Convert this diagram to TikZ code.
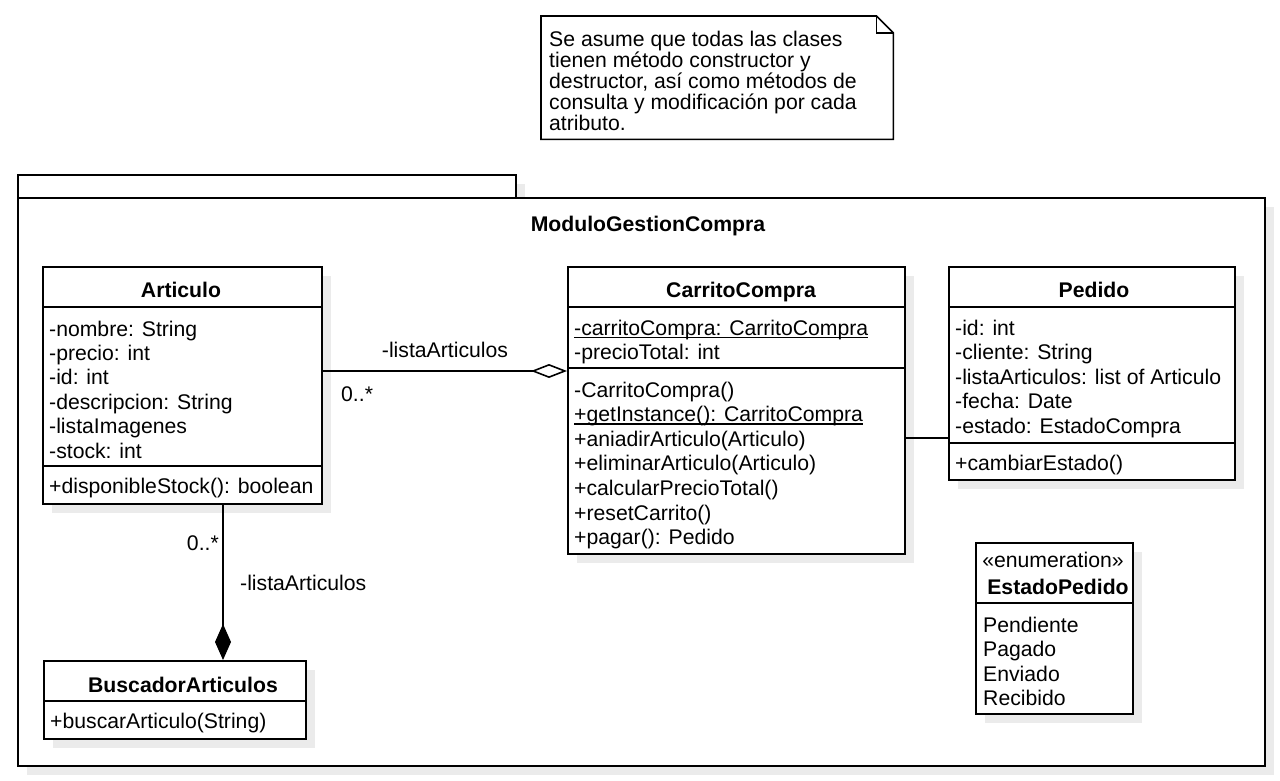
\documentclass[tikz,border=0pt]{standalone}
\usepackage{fontspec}
\setmainfont{Liberation Sans}
\usetikzlibrary{arrows.meta,shadows}

% underline drawn through the descenders, as UML does for static members
\newcommand\staticul[1]{\setbox0\hbox{#1}\rlap{\rule[-3pt]{\wd0}{1.3pt}}\box0}

\begin{document}
\begin{tikzpicture}[x=1pt,y=-1pt,
  every node/.style={font=\fontsize{21.2}{24.6}\selectfont, inner sep=0pt},
  ln/.style={line width=1.6pt},
  umlbox/.style={draw=black, line width=1.6pt, fill=white, anchor=north west,
    drop shadow={shadow xshift=9pt, shadow yshift=-9pt, fill=black!8, opacity=1}},
  rowtxt/.style={anchor=base west},
  ctrtxt/.style={anchor=base},
  ttl/.style={anchor=base, font=\fontsize{21.2}{24.6}\selectfont\bfseries},
]
\useasboundingbox (0,0) rectangle (1280,781);
\fill[white] (0,0) rectangle (1280,781);

% ---------- note ----------
\node[anchor=north west, minimum width=352pt, minimum height=123pt] (note) at (541,16) {};
\draw[ln, fill=white, line join=miter]
  (note.north west) -- ([xshift=-17pt]note.north east) -- ([yshift=-17pt]note.north east)
  -- (note.south east) -- (note.south west) -- cycle;
\draw[ln] ([xshift=-17pt]note.north east) -- ([xshift=-17pt,yshift=-17pt]note.north east)
  -- ([yshift=-17pt]note.north east);
\foreach \t [count=\i] in {{Se asume que todas las clases}, {tienen método constructor y},
    {destructor, así como métodos de}, {consulta y modificación por cada}, {atributo.}}
  \node[rowtxt] (notel\i) at (549, 26+21*\i) {\t};

% ---------- package ----------
\node[umlbox, minimum width=498pt, minimum height=23pt] (pkgtab) at (17,174) {};
\node[umlbox, minimum width=1247pt, minimum height=568pt] (pkg) at (17,197) {};
\node[ttl] (pkgT) at (648,231) {ModuloGestionCompra};

% ---------- Articulo ----------
\node[umlbox, minimum width=279pt, minimum height=237pt] (art) at (42,266) {};
\draw[ln] (art.west |- 0,307) -- (art.east |- 0,307);
\draw[ln] (art.west |- 0,466) -- (art.east |- 0,466);
\node[ttl] (artT) at (181,297) {Articulo};
\foreach \t [count=\i from 0] in {{-nombre: String}, {-precio: int}, {-id: int},
    {-descripcion: String}, {-listaImagenes}, {-stock: int}}
  \node[rowtxt] (artA\i) at (49, 336+24.4*\i) {\t};
\node[rowtxt] (artM0) at (49,493) {+disponibleStock(): boolean};

% ---------- CarritoCompra ----------
\node[umlbox, minimum width=337pt, minimum height=287pt] (cart) at (567,266) {};
\draw[ln] (cart.west |- 0,307) -- (cart.east |- 0,307);
\draw[ln] (cart.west |- 0,368) -- (cart.east |- 0,368);
\node[ttl] (cartT) at (741,297) {CarritoCompra};
\node[rowtxt] (cartA0) at (574,335) {\staticul{-carritoCompra: CarritoCompra}};
\node[rowtxt] (cartA1) at (574,359.6) {-precioTotal: int};
\node[rowtxt] (cartM0) at (574,397) {-CarritoCompra()};
\node[rowtxt] (cartM1) at (574,421.6) {\staticul{+getInstance(): CarritoCompra}};
\foreach \t [count=\i from 2] in {{+aniadirArticulo(Articulo)}, {+eliminarArticulo(Articulo)},
    {+calcularPrecioTotal()}, {+resetCarrito()}, {+pagar(): Pedido}}
  \node[rowtxt] (cartM\i) at (574, 397+24.6*\i) {\t};

% ---------- Pedido ----------
\node[umlbox, minimum width=286pt, minimum height=213pt] (ped) at (948,266) {};
\draw[ln] (ped.west |- 0,307) -- (ped.east |- 0,307);
\draw[ln] (ped.west |- 0,443) -- (ped.east |- 0,443);
\node[ttl] (pedT) at (1094,297) {Pedido};
\foreach \t [count=\i from 0] in {{-id: int}, {-cliente: String},
    {-listaArticulos: list of Articulo}, {-fecha: Date}, {-estado: EstadoCompra}}
  \node[rowtxt] (pedA\i) at (955, 335+24.5*\i) {\t};
\node[rowtxt] (pedM0) at (955,470) {+cambiarEstado()};

% ---------- EstadoPedido ----------
\node[umlbox, minimum width=157pt, minimum height=171pt] (enum) at (975,542) {};
\draw[ln] (enum.west |- 0,603) -- (enum.east |- 0,603);
\node[ctrtxt] (enumS) at (1053,567) {«enumeration»};
\node[ttl] (enumT) at (1058,594) {EstadoPedido};
\foreach \t [count=\i from 0] in {Pendiente, Pagado, Enviado, Recibido}
  \node[rowtxt] (enumL\i) at (983, 632+24.5*\i) {\t};

% ---------- BuscadorArticulos ----------
\node[umlbox, minimum width=262pt, minimum height=78pt] (busc) at (43,660) {};
\draw[ln] (busc.west |- 0,701) -- (busc.east |- 0,701);
\node[ttl] (buscT) at (183,692) {BuscadorArticulos};
\node[rowtxt] (buscM0) at (50,728) {+buscarArticulo(String)};

% ---------- relations ----------
\draw[ln, -{Diamond[open, fill=white, length=36pt, width=14pt]}]
  (art.east |- 0,371) -- (cart.west |- 0,371);
\node[ctrtxt] (aggL) at (445,357) {-listaArticulos};
\node[rowtxt] (aggM) at (341,401) {0..*};

\draw[ln, -{Diamond[length=36pt, width=16pt]}]
  (223,0 |- art.south) -- (223,0 |- busc.north);
\node[anchor=base east] (compM) at (219,550) {0..*};
\node[rowtxt] (compL) at (240,590) {-listaArticulos};

\draw[ln] (cart.east |- 0,438) -- (ped.west |- 0,438);
\end{tikzpicture}
\end{document}
